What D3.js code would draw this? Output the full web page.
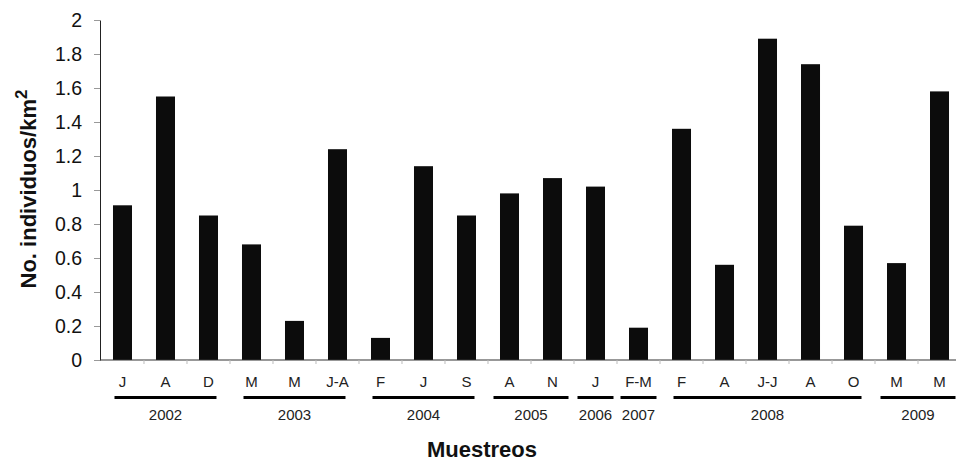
<!DOCTYPE html>
<html>
<head>
<meta charset="utf-8">
<script src="https://cdn.jsdelivr.net/npm/d3@7"></script>
<style>
  html, body { margin: 0; padding: 0; background: #fff; }
  svg { display: block; font-family: "Liberation Sans", Arial, Helvetica, sans-serif; }
</style>
</head>
<body>
<svg id="chart" width="956" height="460"></svg>
<script>
// Sampling months (one bar per survey)
const months = ["J", "A", "D", "M", "M", "J-A", "F", "J", "S", "A", "N", "J", "F-M", "F", "A", "J-J", "A", "O", "M", "M"];
// Survey year of each bar
const years = ["2002", "2002", "2002", "2003", "2003", "2003", "2004", "2004", "2004", "2005", "2005", "2006", "2007", "2008", "2008", "2008", "2008", "2008", "2009", "2009"];
// Density (individuals per km²)
const densities = [0.91, 1.55, 0.85, 0.68, 0.23, 1.24, 0.13, 1.14, 0.85, 0.98, 1.07, 1.02, 0.19, 1.36, 0.56, 1.89, 1.74, 0.79, 0.57, 1.58];
// Y axis tick values and labels
const yTicks = [0, 0.2, 0.4, 0.6, 0.8, 1, 1.2, 1.4, 1.6, 1.8, 2];
const yTickLabels = ["0", "0.2", "0.4", "0.6", "0.8", "1", "1.2", "1.4", "1.6", "1.8", "2"];

const svg = d3.select("#chart");
const idx = d3.range(months.length);

const x = d3.scaleBand()
  .domain(idx)
  .range([100, 962])
  .paddingInner(0.558)
  .paddingOuter(0.302);

const y = d3.scaleLinear().domain([0, 2]).range([360, 20]);

// Bars
svg.append("g")
  .selectAll("rect")
  .data(idx)
  .join("rect")
  .attr("x", i => x(i))
  .attr("width", x.bandwidth())
  .attr("y", i => y(densities[i]))
  .attr("height", i => y(0) - y(densities[i]))
  .attr("fill", "#0c0c0c");

// Y axis
const yAxis = svg.append("g")
  .attr("transform", "translate(100,0)")
  .call(d3.axisLeft(y)
    .tickValues(yTicks)
    .tickFormat((d, i) => yTickLabels[i])
    .tickSize(6)
    .tickSizeOuter(0)
    .tickPadding(12));
yAxis.select(".domain").attr("stroke", "#222");
yAxis.selectAll(".tick line").attr("stroke", "#999");
yAxis.selectAll(".tick text")
  .attr("font-size", 19.5)
  .attr("fill", "#111")
  .style("font-family", "'Liberation Sans', Arial, sans-serif");

// X axis line with faint separators between bars
svg.append("line")
  .attr("x1", 100).attr("x2", 956)
  .attr("y1", y(0)).attr("y2", y(0))
  .attr("stroke", "#333").attr("stroke-width", 1.2);

const step = x.step();
svg.append("g")
  .selectAll("line")
  .data(idx.slice(1))
  .join("line")
  .attr("x1", i => x(i) - (step - x.bandwidth()) / 2)
  .attr("x2", i => x(i) - (step - x.bandwidth()) / 2)
  .attr("y1", y(0)).attr("y2", y(0) + 4)
  .attr("stroke", "#bbb");

// Month labels
const cx = i => x(i) + x.bandwidth() / 2;
svg.append("g")
  .selectAll("text")
  .data(idx)
  .join("text")
  .attr("x", cx)
  .attr("y", 387)
  .attr("text-anchor", "middle")
  .attr("font-size", 15)
  .attr("fill", "#222")
  .text(i => months[i]);

// Year groups: underline spanning the group's bars, with the year below
const groups = [];
years.forEach((yr, i) => {
  const last = groups[groups.length - 1];
  if (last && last.year === yr) last.end = i;
  else groups.push({ year: yr, start: i, end: i });
});
const padFor = n => (n >= 3 ? 8 : n === 2 ? 16 : 18);

const yg = svg.append("g");
groups.forEach(g => {
  const n = g.end - g.start + 1;
  const pad = padFor(n);
  const x1 = cx(g.start) - pad;
  const x2 = cx(g.end) + pad;
  yg.append("line")
    .attr("x1", x1).attr("x2", x2)
    .attr("y1", 397.5).attr("y2", 397.5)
    .attr("stroke", "#000").attr("stroke-width", 3);
  yg.append("text")
    .attr("x", (x1 + x2) / 2)
    .attr("y", 419.5)
    .attr("text-anchor", "middle")
    .attr("font-size", 15)
    .attr("fill", "#222")
    .text(g.year);
});

// Axis titles
svg.append("text")
  .attr("x", 482)
  .attr("y", 456.5)
  .attr("text-anchor", "middle")
  .attr("font-size", 22)
  .attr("font-weight", "bold")
  .attr("fill", "#111")
  .text("Muestreos");

const yt = svg.append("text")
  .attr("transform", "translate(36,189) rotate(-90)")
  .attr("text-anchor", "middle")
  .attr("font-size", 22)
  .attr("font-weight", "bold")
  .attr("fill", "#111");
yt.append("tspan").text("No. individuos/km");
yt.append("tspan")
  .attr("dy", -9)
  .attr("font-size", 17)
  .text("2");
</script>
</body>
</html>
